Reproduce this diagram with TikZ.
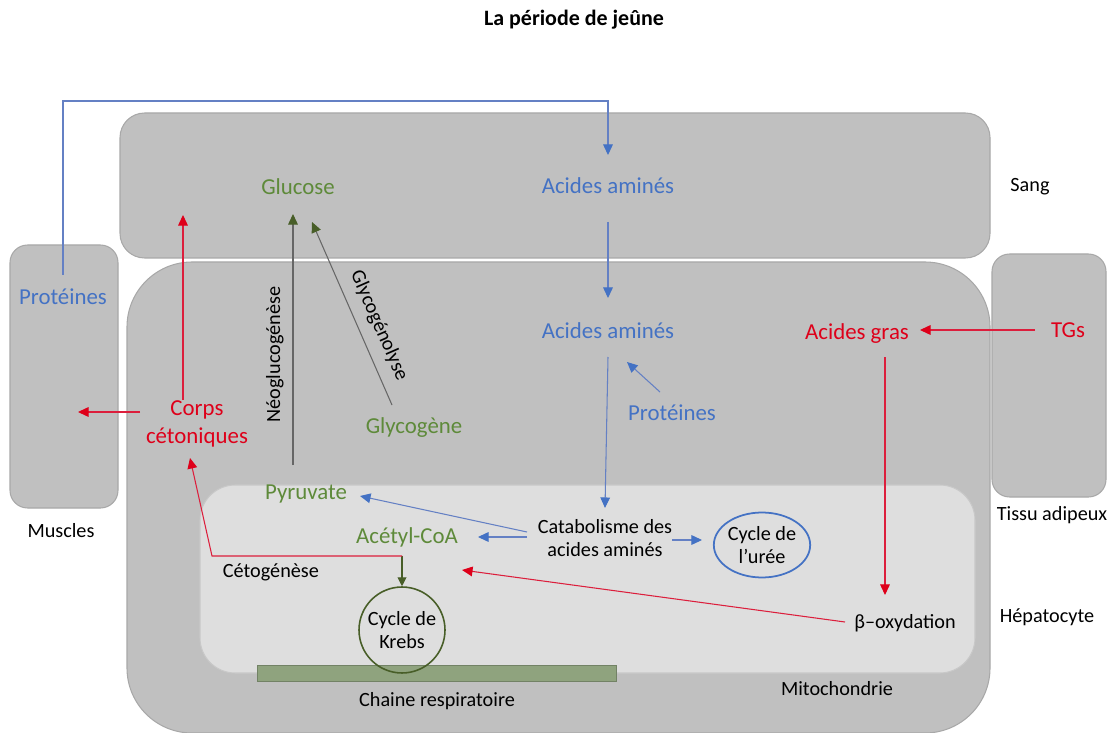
\documentclass[tikz,border=0pt]{standalone}
\usepackage{fontspec}
\setmainfont{Carlito}
\usetikzlibrary{arrows.meta, calc, shapes.geometric}

\definecolor{cellgray}{RGB}{192,192,192}
\definecolor{celledge}{RGB}{168,168,168}
\definecolor{mitogray}{RGB}{222,222,222}
\definecolor{mitoedge}{RGB}{200,200,200}
\definecolor{txtgreen}{RGB}{94,138,58}
\definecolor{txtblue}{RGB}{68,114,196}
\definecolor{lineblue}{RGB}{100,128,196}
\definecolor{txtred}{RGB}{222,0,26}
\definecolor{linered}{RGB}{220,30,60}
\definecolor{arrolive}{RGB}{72,94,40}
\definecolor{chaingreen}{RGB}{143,163,126}

\begin{document}
\begin{tikzpicture}[x=0.02cm, y=-0.02cm,
    cellbox/.style={fill=cellgray, draw=celledge, line width=0.6pt},
    mitobox/.style={fill=mitogray, draw=mitoedge, line width=0.6pt, rounded corners=20pt},
    every node/.style={inner sep=1pt},
    lbl/.style={font=\fontsize{13}{15.5}\selectfont, align=center},
    blk/.style={font=\fontsize{11.5}{13.5}\selectfont, align=center, text=black},
    green/.style={lbl, text=txtgreen},
    blue/.style={lbl, text=txtblue},
    red/.style={lbl, text=txtred},
    bluearr/.style={draw=lineblue, line width=0.6pt, -{Triangle[length=6pt, width=5.5pt, color=txtblue]}},
    redarr/.style={draw=linered, line width=0.6pt, -{Triangle[length=6pt, width=5.5pt, color=txtred]}},
    greenarr/.style={draw=black!60, line width=0.6pt, -{Triangle[length=6pt, width=5.5pt, color=arrolive]}},
    olivearr/.style={draw=arrolive, line width=0.6pt, -{Triangle[length=5pt, width=5pt, color=arrolive]}}]
  \useasboundingbox (0,0) rectangle (1109,733);

  % compartments
  \draw[cellbox, rounded corners=14pt] (120,113) rectangle (990,258);
  \draw[cellbox, rounded corners=37pt] (127,262) rectangle (990,733);
  \draw[cellbox, rounded corners=10pt] (10,245) rectangle (118,508);
  \draw[cellbox, rounded corners=10pt] (992,254) rectangle (1106,497);
  \draw[mitobox] (200,485) rectangle (975,673);
  \fill[chaingreen, draw=chaingreen!80!black, line width=0.4pt] (257,665) rectangle (616,681);

  % labels
  \node[font=\fontsize{12.5}{15}\selectfont\bfseries] (titre) at (574,20) {La période de jeûne};
  \node[blk] (sang) at (1030,187) {Sang};
  \node[blk] (muscles) at (61,531) {Muscles};
  \node[blk] (tissu) at (1052,515) {Tissu adipeux};
  \node[blk] (hepato) at (1047,617) {Hépatocyte};
  \node[blk] (mito) at (837,689) {Mitochondrie};
  \node[blk] (chaine) at (437,701) {Chaine respiratoire};

  \node[green] (glucose) at (298,187) {Glucose};
  \node[blue] (aaSang) at (608,186) {Acides aminés};
  \node[blue] (aaHep) at (608,331) {Acides aminés};
  \node[blue] (protMus) at (63,297) {Protéines};
  \node[blue] (protHep) at (672,413) {Protéines};
  \node[red] (agras) at (857,334) {Acides gras};
  \node[red] (tgs) at (1068,330) {TGs};
  \node[red] (corps) at (197,424) {Corps\\cétoniques};
  \node[green] (glycogene) at (414,428) {Glycogène};
  \node[green] (pyruvate) at (306,494) {Pyruvate};
  \node[green] (acetyl) at (407,537) {Acétyl-CoA};
  \node[blk] (catab) at (605,538) {Catabolisme des\\acides aminés};
  \node[blk, ellipse, draw=txtblue, line width=1pt, minimum width=1.92cm, minimum height=1.3cm, inner sep=0pt] (uree) at (762,545) {Cycle de\\l’urée};
  \node[blk, circle, draw=arrolive, line width=0.9pt, minimum size=1.72cm, inner sep=0pt] (krebs) at (402,630) {Cycle de\\Krebs};
  \node[blk] (beta) at (905,623) {β–oxydation};

  % acides amines
  \draw[bluearr] ($(protMus)+(0,-22)$) |- ($(aaSang)+(0,-85)$) -- ($(aaSang)+(0,-31)$);
  \draw[bluearr] ($(aaSang)+(0,36)$) -- ($(aaHep)+(0,-33)$);
  \draw[bluearr] ($(aaHep)+(0,26)$) -- ($(catab)+(0,-30)$);
  \draw[bluearr] ($(protHep)+(-12,-21)$) -- ($(aaHep)+(19,31)$);
  \draw[bluearr] ($(catab)+(-78,-6)$) -- ($(pyruvate)+(54,2)$);
  \draw[bluearr] ($(catab)+(-78,-1)$) -- ($(acetyl)+(71,0)$);
  \draw[bluearr] ($(catab)+(67,2)$) -- ($(uree)+(-60,-5)$);

  % glucose
  \draw[greenarr] ($(pyruvate)+(-13,-29)$) -- node[blk, pos=0.44, sloped, above=4pt] {Néoglucogénèse} ($(glucose)+(-5,27)$);
  \draw[greenarr] ($(glycogene)+(-22,-23)$) -- node[blk, pos=0.39, sloped, above=5pt] {Glycogénolyse} ($(glucose)+(14,35)$);

  % lipides et corps cetoniques
  \draw[redarr] ($(tgs)+(-33,0)$) -- ($(agras)+(63,-4)$);
  \draw[redarr] ($(agras)+(28,23)$) -- ($(beta)+(-20,-28)$);
  \draw[redarr] ($(beta)+(-60,-1)$) -- ($(acetyl)+(55,33)$);
  \draw[olivearr] ($(krebs)+(0,-74)$) -- (krebs.north);
  \draw[redarr] ($(krebs)+(0,-74)$) -- node[blk, pos=0.69, below=3pt] {Cétogénèse} ($(krebs)+(-190,-74)$) -- ($(corps)+(-7,34)$);
  \draw[redarr] ($(corps)+(-14,-24)$) -- ($(corps)+(-14,-209)$);
  \draw[redarr] ($(corps)+(-57,-12)$) -- ($(corps)+(-119,-12)$);
\end{tikzpicture}
\end{document}
